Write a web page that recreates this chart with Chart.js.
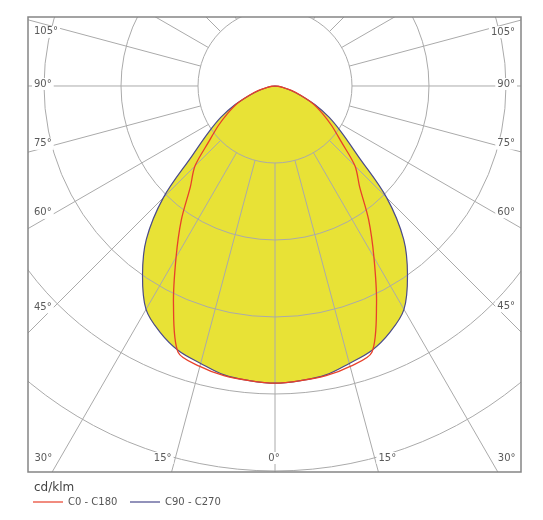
<!DOCTYPE html>
<html>
<head>
<meta charset="utf-8">
<script src="https://cdn.jsdelivr.net/npm/chart.js@4.4.0/dist/chart.umd.min.js"></script>
<style>
html, body { margin: 0; padding: 0; background: #fff; }
#wrap { width: 543px; height: 520px; }
</style>
</head>
<body>
<div id="wrap"><canvas id="polarChart" width="543" height="520"></canvas></div>
<script>
// gamma angles from nadir (deg), one half of the curve, mirrored for the other half
var gammaAngles = [0, 5, 10, 15, 20, 25, 30, 35, 40, 45, 50, 55, 60, 65, 70, 75, 80, 85, 90];
// intensities in cd/klm
var c0c180 = [386, 384, 382, 377, 368, 312, 257, 212, 171, 147, 112, 90, 71, 55, 36, 22, 10, 4, 0];
var c90c270 = [386, 384, 381, 373, 366, 353, 335, 300, 260, 205, 140, 106, 81, 57, 35, 21, 10, 4, 0];
// grid
var ringValues = [100, 200, 300, 400, 500];
var spokeAngles = [0, 15, 30, 45, 60, 75, 90, 105, 120, 135, 150, 165];
var bottomLabels = [0, 15, 30];
var sideLabels = [45, 60, 75, 90, 105];

function toPoints(values) {
    var pts = [];
    var i, g;
    for (i = gammaAngles.length - 1; i > 0; i--) {
        g = gammaAngles[i] * Math.PI / 180;
        pts.push({ x: -values[i] * Math.sin(g), y: -values[i] * Math.cos(g) });
    }
    for (i = 0; i < gammaAngles.length; i++) {
        g = gammaAngles[i] * Math.PI / 180;
        pts.push({ x: values[i] * Math.sin(g), y: -values[i] * Math.cos(g) });
    }
    return pts;
}

var labelFont = '10px "DejaVu Sans"';

var polarGrid = {
    id: 'polarGrid',
    beforeDatasetsDraw: function(chart) {
        var ctx = chart.ctx, ca = chart.chartArea;
        var xs = chart.scales.x, ys = chart.scales.y;
        var cx = xs.getPixelForValue(0), cy = ys.getPixelForValue(0);
        ctx.save();
        ctx.beginPath();
        ctx.rect(ca.left, ca.top, ca.right - ca.left, ca.bottom - ca.top);
        ctx.clip();
        ctx.strokeStyle = '#aaaaaa';
        ctx.lineWidth = 1;
        ringValues.forEach(function(v) {
            var r = xs.getPixelForValue(v) - cx;
            ctx.beginPath();
            ctx.arc(cx, cy, r, 0, Math.PI * 2);
            ctx.stroke();
        });
        var r0 = ringValues[0];
        spokeAngles.forEach(function(a) {
            var g = a * Math.PI / 180;
            [-1, 1].forEach(function(side) {
                if (a === 0 && side < 0) return;
                ctx.beginPath();
                ctx.moveTo(xs.getPixelForValue(side * r0 * Math.sin(g)), ys.getPixelForValue(-r0 * Math.cos(g)));
                ctx.lineTo(xs.getPixelForValue(side * 2000 * Math.sin(g)), ys.getPixelForValue(-2000 * Math.cos(g)));
                ctx.stroke();
            });
        });
        ctx.restore();
    },
    afterDraw: function(chart) {
        var ctx = chart.ctx, ca = chart.chartArea;
        var xs = chart.scales.x, ys = chart.scales.y;
        var cx = xs.getPixelForValue(0), cy = ys.getPixelForValue(0);
        ctx.save();
        ctx.font = labelFont;
        ctx.textBaseline = 'middle';
        ctx.textAlign = 'left';

        function drawLabel(text, x0, yc) {
            var w = ctx.measureText(text).width;
            ctx.fillStyle = '#fff';
            ctx.fillRect(x0 - 2, yc - 6, w + 4, 12);
            ctx.fillStyle = '#5a5a5a';
            ctx.fillText(text, x0, yc);
        }

        // bottom labels
        bottomLabels.forEach(function(a) {
            var g = a * Math.PI / 180;
            var text = a + '°';
            var w = ctx.measureText(text).width;
            var yc = ca.bottom - 14;
            var dx = (ca.bottom - cy) * Math.tan(g);
            if (a === 0) {
                drawLabel(text, cx - w / 2 - 1, yc);
            } else {
                drawLabel(text, cx - dx - w, yc);
                drawLabel(text, cx + dx, yc);
            }
        });
        // side labels
        sideLabels.forEach(function(a) {
            var g = a * Math.PI / 180;
            var text = a + '°';
            var w = ctx.measureText(text).width;
            var shift = a > 90 ? 4 : -2;
            var xl = ca.left + 6;
            var ax = xl + w;
            var t = (cx - ax) / Math.sin(g);
            drawLabel(text, xl, cy + t * Math.cos(g) + shift);
            var xr = ca.right - 6 - w;
            t = (xr - cx) / Math.sin(g);
            drawLabel(text, xr, cy + t * Math.cos(g) + shift);
        });

        // frame
        ctx.strokeStyle = '#858585';
        ctx.lineWidth = 1.5;
        ctx.strokeRect(ca.left, ca.top, ca.right - ca.left, ca.bottom - ca.top);

        // legend
        ctx.fillStyle = '#444';
        ctx.font = '12px "DejaVu Sans"';
        ctx.fillText('cd/klm', ca.left + 6, ca.bottom + 16);
        ctx.font = labelFont;
        var ly = ca.bottom + 30;
        ctx.lineWidth = 1.2;
        ctx.strokeStyle = '#e8402a';
        ctx.beginPath(); ctx.moveTo(ca.left + 5, ly); ctx.lineTo(ca.left + 35, ly); ctx.stroke();
        ctx.fillStyle = '#555';
        ctx.fillText('C0 - C180', ca.left + 40, ly);
        ctx.strokeStyle = '#4a4a8c';
        ctx.beginPath(); ctx.moveTo(ca.left + 102, ly); ctx.lineTo(ca.left + 132, ly); ctx.stroke();
        ctx.fillText('C90 - C270', ca.left + 137, ly);
        ctx.restore();
    }
};

var chart = new Chart(document.getElementById('polarChart').getContext('2d'), {
    type: 'scatter',
    data: {
        datasets: [
            {
                label: 'C0 - C180',
                data: toPoints(c0c180),
                showLine: true,
                borderColor: '#e8402a',
                borderWidth: 1.3,
                pointRadius: 0,
                tension: 0.3,
                fill: false
            },
            {
                label: 'C90 - C270',
                data: toPoints(c90c270),
                showLine: true,
                borderColor: '#4a4a8c',
                borderWidth: 1.2,
                backgroundColor: '#e8e236',
                pointRadius: 0,
                tension: 0.35,
                fill: 'shape'
            }
        ]
    },
    options: {
        responsive: false,
        animation: false,
        devicePixelRatio: 1,
        layout: { padding: { left: 28, right: 22, top: 17, bottom: 48 } },
        scales: {
            x: { type: 'linear', min: -320.8, max: 319.5, display: false },
            y: { type: 'linear', min: -501.3, max: 89.6, display: false }
        },
        plugins: {
            legend: { display: false },
            tooltip: { enabled: false },
            filler: { drawTime: 'beforeDatasetsDraw' }
        }
    },
    plugins: [polarGrid]
});
</script>
</body>
</html>
